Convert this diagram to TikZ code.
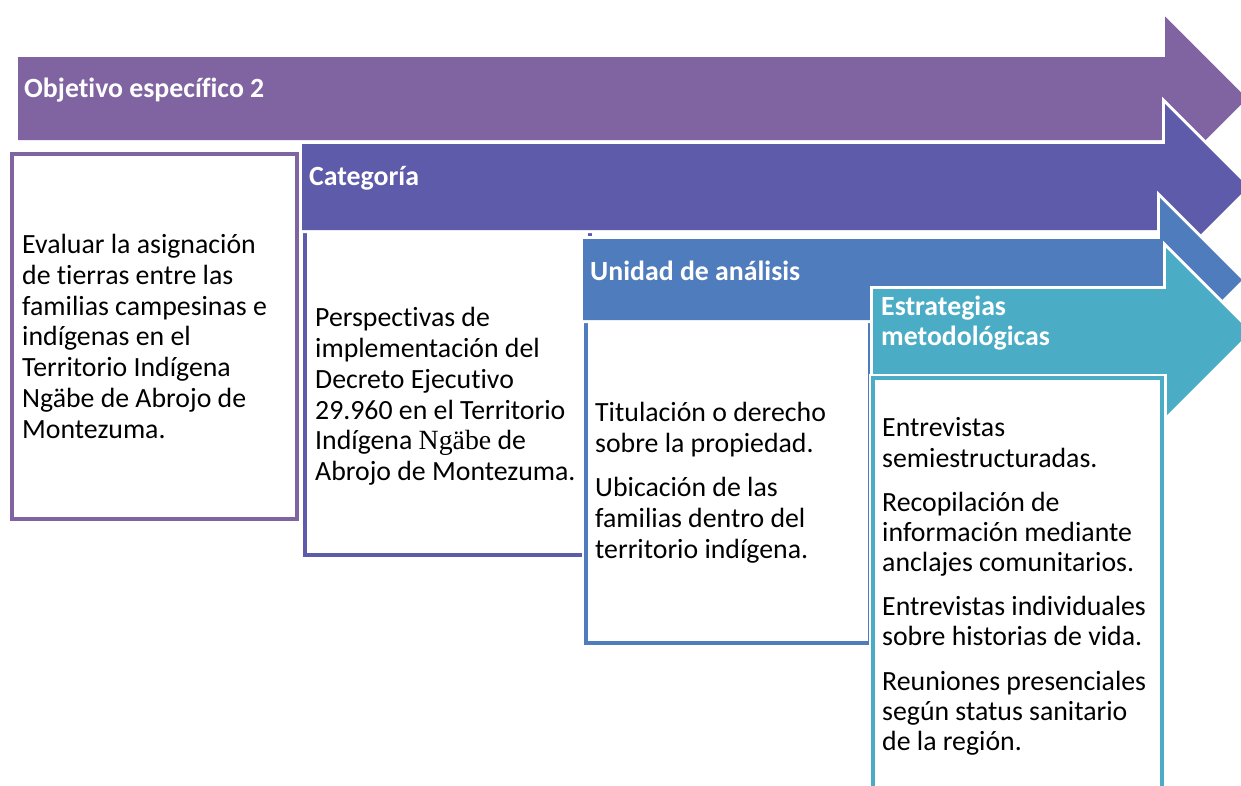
\documentclass[tikz,border=0pt]{standalone}
\usepackage{fontspec}
\setmainfont{Carlito}[Ligatures=NoCommon]
\newfontfamily\altserif{Liberation Serif}
\definecolor{cpurple}{HTML}{8064A2}
\definecolor{cviolet}{HTML}{5F5BAB}
\definecolor{cblue}{HTML}{4F7CBD}
\definecolor{cteal}{HTML}{4BACC6}
\tikzset{
  arrowshape/.style={fill=#1, preaction={draw=white, line width=6pt, line join=miter}},
  boxshape/.style={draw=#1, fill=white, line width=4pt, line join=miter, preaction={draw=white, line width=9pt}},
  headtext/.style={text=white, font=\fontsize{27.8}{30}\selectfont\bfseries, inner sep=0pt},
  bodytext/.style={text=black, inner sep=0pt, align=left, anchor=north west},
}
\begin{document}
\begin{tikzpicture}[x=1pt,y=-1pt]
\useasboundingbox (0,0) rectangle (1241,785);
\clip (0,0) rectangle (1241,785);
% arrow 1
\path[arrowshape=cpurple] (18,57) -- (1165,57) -- (1165,16.5) -- (1247,98.5) -- (1165,180.5) -- (1165,140) -- (18,140) -- cycle;
% box 1
\path[boxshape=cpurple] (12,154) rectangle (297,519);
% box 2
\path[boxshape=cviolet] (305,226) rectangle (590,555);
% arrow 2
\path[arrowshape=cviolet] (302,144) -- (1165,144) -- (1165,104) -- (1248,187) -- (1165,270) -- (1165,230) -- (302,230) -- cycle;
% box 3
\path[boxshape=cblue] (586,316) rectangle (870,643);
% arrow 3
\path[arrowshape=cblue] (583,239) -- (1160,239) -- (1160,198) -- (1242,280) -- (1160,362) -- (1160,320) -- (583,320) -- cycle;
% arrow 4
\path[arrowshape=cteal] (873,289) -- (1166,289) -- (1166,248) -- (1250,332) -- (1166,416) -- (1166,375) -- (873,375) -- cycle;
% box 4
\path[boxshape=cteal] (873,378) rectangle (1162,810);

% headers
\node[headtext, anchor=base west] (h1) at (24,97) {Objetivo específico 2};
\node[headtext, anchor=base west] (h2) at (309,185) {Categoría};
\node[headtext, anchor=base west] (h3) at (590,280) {Unidad de análisis};
\node[headtext, anchor=north west, align=left] (h4) at (881,291) {\rule{0pt}{24pt}Estrategias\\metodológicas};

% body texts
\node[bodytext, font=\fontsize{27.8}{30.8}\selectfont] (t1) at (22,229.3) {\rule{0pt}{24pt}Evaluar la asignación\\de tierras entre las\\familias campesinas e\\indígenas en el\\Territorio Indígena\\Ngäbe de Abrojo de\\Montezuma.};
\node[bodytext, font=\fontsize{27.8}{30.7}\selectfont] (t2) at (315,302.7) {\rule{0pt}{24pt}Perspectivas de\\implementación del\\Decreto Ejecutivo\\29.960 en el Territorio\\Indígena {\altserif Ngäbe} de\\Abrojo de Montezuma.};
\node[bodytext, font=\fontsize{27.8}{30.6}\selectfont] (t3) at (595,397.7) {\rule{0pt}{24pt}Titulación o derecho\\sobre la propiedad.\\[13.8pt]Ubicación de las\\familias dentro del\\territorio indígena.};
\node[bodytext, font=\fontsize{27.8}{30.1}\selectfont] (t4) at (882,412.7) {\rule{0pt}{24pt}Entrevistas\\semiestructuradas.\\[14.2pt]Recopilación de\\información mediante\\anclajes comunitarios.\\[14.2pt]Entrevistas individuales\\sobre historias de vida.\\[14.2pt]Reuniones presenciales\\según status sanitario\\de la región.};
\end{tikzpicture}
\end{document}
